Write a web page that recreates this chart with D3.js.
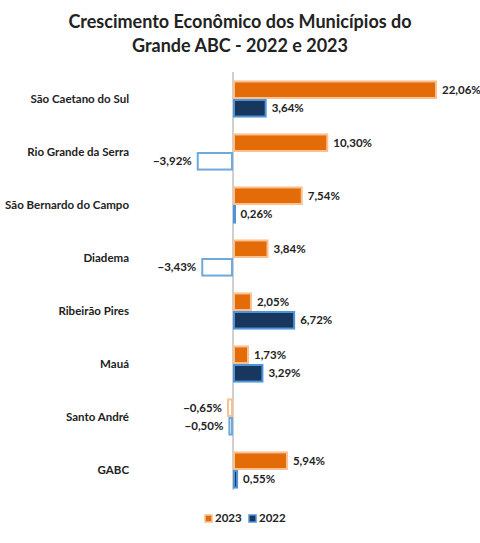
<!DOCTYPE html>
<html>
<head>
<meta charset="utf-8">
<script src="https://cdn.jsdelivr.net/npm/d3@7"></script>
<style>
  body { margin: 0; background: #fff; }
  text { font-family: Lato, "Open Sans", sans-serif; }
</style>
</head>
<body>
<svg id="chart" width="480" height="543"></svg>
<script>
// ------------------------------
// DONNEES
// ------------------------------
const municipios = ["São Caetano do Sul", "Rio Grande da Serra", "São Bernardo do Campo", "Diadema",
  "Ribeirão Pires", "Mauá", "Santo André", "GABC"];
const series = ["2023", "2022"];
const v2023 = [22.06, 10.30, 7.54, 3.84, 2.05, 1.73, -0.65, 5.94];
const v2022 = [3.64, -3.92, 0.26, -3.43, 6.72, 3.29, -0.50, 0.55];

const cores = {
  "2023": { fill: "#E36C09", stroke: "#FAC090", neg: "#FAC090" },
  "2022": { fill: "#17375E", stroke: "#4F94D8", neg: "#6FA8DC" }
};

const svg = d3.select("#chart");

// titre
svg.append("text").attr("x", 240).attr("y", 28).attr("text-anchor", "middle")
  .attr("font-size", 18).attr("font-weight", "bold").attr("fill", "#222")
  .text("Crescimento Econômico dos Municípios do");
svg.append("text").attr("x", 240).attr("y", 52).attr("text-anchor", "middle")
  .attr("font-size", 18).attr("font-weight", "bold").attr("fill", "#222")
  .text("Grande ABC - 2022 e 2023");

// échelles
const x = d3.scaleLinear().domain([0, 22.06]).range([233, 437]);
const y = d3.scaleBand().domain(municipios).range([72.5, 496.5]).paddingInner(0.3).paddingOuter(0.15);
const ys = d3.scaleBand().domain(series).range([0, y.bandwidth()]);

// ligne zéro
svg.append("line").attr("x1", x(0)).attr("x2", x(0)).attr("y1", 72).attr("y2", 490)
  .attr("stroke", "#d0d0d0").attr("stroke-width", 2);

// labels catégories
svg.append("g").selectAll("text").data(municipios).enter().append("text")
  .attr("x", 129).attr("y", d => y(d) + y.bandwidth() / 2 + 4)
  .attr("text-anchor", "end").attr("font-size", 11.5).attr("font-weight", "bold").attr("fill", "#222")
  .text(d => d);

const fmt = v => d3.format(".2f")(v).replace(".", ",") + "%";

series.forEach(s => {
  const vals = s === "2023" ? v2023 : v2022;
  const data = municipios.map((m, i) => ({ m, v: vals[i] }));
  const g = svg.append("g");
  g.selectAll("rect").data(data).enter().append("rect")
    .attr("x", d => x(Math.min(0, d.v)) + 1)
    .attr("y", d => y(d.m) + ys(s) + 1)
    .attr("width", d => Math.max(1, Math.abs(x(d.v) - x(0)) - 2))
    .attr("height", ys.bandwidth() - 2)
    .attr("fill", d => d.v < 0 ? "#fff" : cores[s].fill)
    .attr("stroke", d => d.v < 0 ? cores[s].neg : cores[s].stroke)
    .attr("stroke-width", 2);
  g.selectAll("text").data(data).enter().append("text")
    .attr("x", d => d.v < 0 ? x(d.v) - 5 : x(d.v) + 5)
    .attr("y", d => y(d.m) + ys(s) + ys.bandwidth() / 2 + 4)
    .attr("text-anchor", d => d.v < 0 ? "end" : "start")
    .attr("font-size", 11.5).attr("font-weight", "bold").attr("fill", "#222")
    .text(d => fmt(d.v));
});

// légende
const leg = svg.append("g").attr("transform", "translate(205,522)");
series.forEach((s, i) => {
  const lg = leg.append("g").attr("transform", `translate(${i * 44},0)`);
  lg.append("rect").attr("x", 0).attr("y", -7).attr("width", 7).attr("height", 7)
    .attr("fill", cores[s].fill).attr("stroke", cores[s].stroke).attr("stroke-width", 1.5);
  lg.append("text").attr("x", 10).attr("y", 0).attr("font-size", 11.5).attr("font-weight", "bold")
    .attr("fill", "#222").text(s);
});
</script>
</body>
</html>
